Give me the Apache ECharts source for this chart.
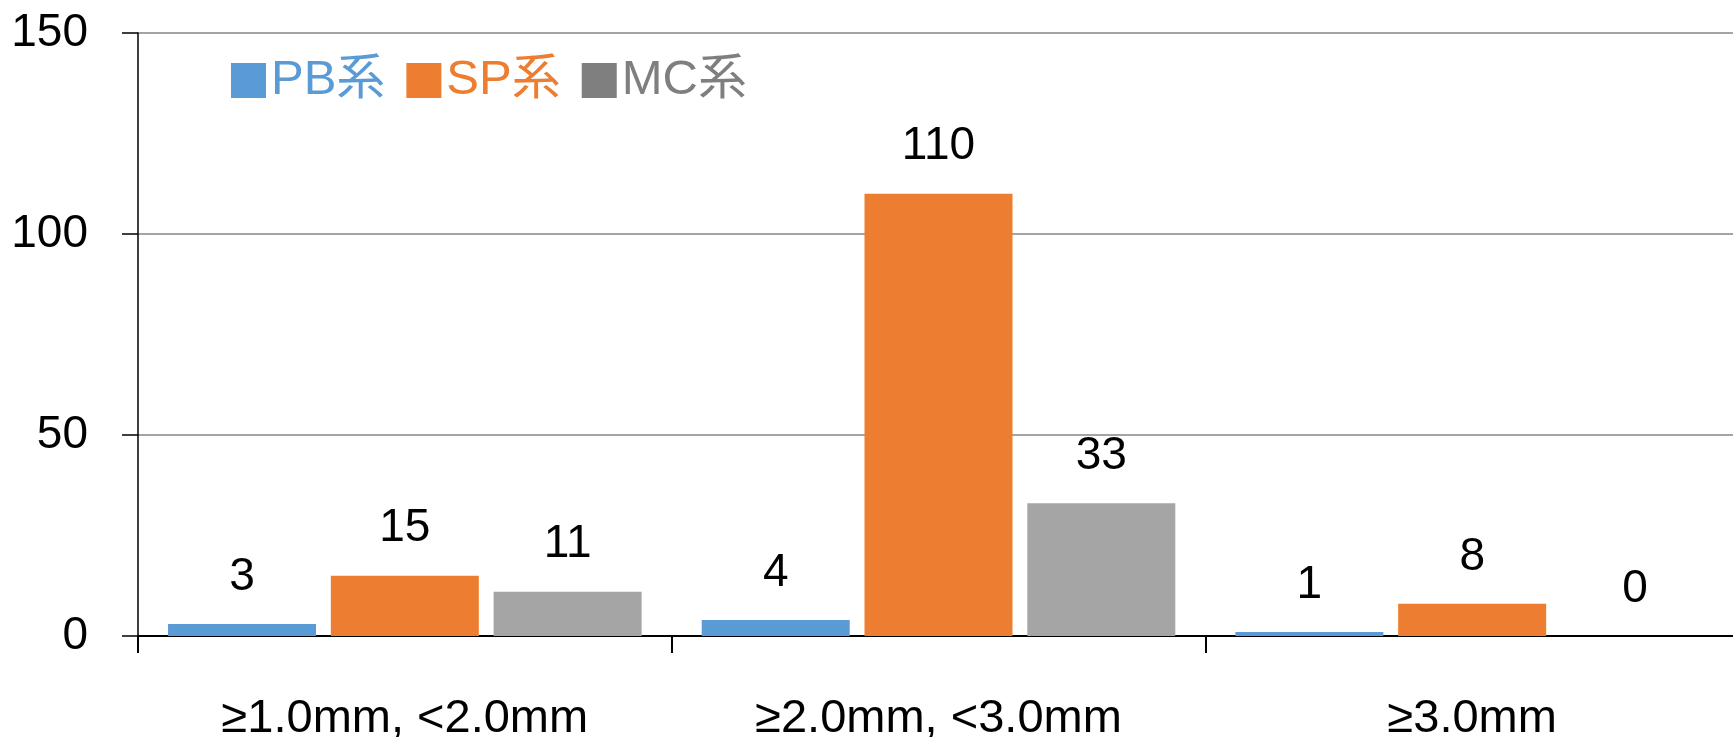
<!DOCTYPE html>
<html>
<head>
<meta charset="utf-8">
<script src="https://cdn.jsdelivr.net/npm/echarts@6/dist/echarts.min.js"></script>
<style>
  html, body { margin: 0; padding: 0; background: #fff; }
  #chart { width: 1733px; height: 737px; }
</style>
</head>
<body>
<div id="chart"></div>
<script>
// Size classes of the counted items
const categories = ['≥1.0mm, <2.0mm', '≥2.0mm, <3.0mm', '≥3.0mm'];
// Counts per series
const pbValues = [3, 4, 1];
const spValues = [15, 110, 8];
const mcValues = [11, 33, 0];
// Value axis ticks
const yTicks = [0, 50, 100, 150];

const FONT = '"Liberation Sans", Arial, "Noto Sans CJK JP", sans-serif';
const BLUE = '#5b9bd5', ORANGE = '#ed7d31', GRAY = '#a5a5a5', GRAY_DARK = '#7f7f7f';

const chart = echarts.init(document.getElementById('chart'), null, { renderer: 'canvas' });

const labelStyle = {
  show: true,
  position: 'top',
  distance: 24,
  color: '#000',
  fontFamily: FONT,
  fontSize: 46
};

function barSeries(name, data, color) {
  return {
    name: name,
    type: 'bar',
    data: data,
    barWidth: 148,
    barGap: '10%',
    itemStyle: { color: color },
    label: labelStyle,
    emphasis: { disabled: true }
  };
}

chart.setOption({
  animation: false,
  textStyle: { fontFamily: FONT },
  grid: {
    left: 138, right: -6, top: 33, bottom: 101,
    containLabel: false,
    outerBoundsMode: 'none'
  },
  legend: {
    left: 226,
    top: 51,
    itemWidth: 35,
    itemHeight: 35,
    itemGap: 21,
    icon: 'rect',
    selectedMode: false,
    textStyle: { fontFamily: FONT, fontSize: 49, padding: [0, 0, 0, 0] },
    data: [
      { name: 'PB系', itemStyle: { color: BLUE }, textStyle: { color: BLUE } },
      { name: 'SP系', itemStyle: { color: ORANGE }, textStyle: { color: ORANGE } },
      { name: 'MC系', itemStyle: { color: GRAY_DARK }, textStyle: { color: GRAY_DARK } }
    ]
  },
  xAxis: {
    type: 'category',
    data: categories,
    axisLine: { show: true, lineStyle: { color: '#000', width: 2 } },
    axisTick: { show: true, length: 17, lineStyle: { color: '#000', width: 2 } },
    axisLabel: { color: '#000', fontFamily: FONT, fontSize: 47, margin: 60, interval: 0 },
    splitLine: { show: false }
  },
  yAxis: {
    type: 'value',
    min: yTicks[0],
    max: yTicks[yTicks.length - 1],
    interval: yTicks[1] - yTicks[0],
    axisLine: { show: true, lineStyle: { color: '#000', width: 1.5 } },
    axisTick: { show: true, length: 16, lineStyle: { color: '#000', width: 1.5 } },
    axisLabel: { color: '#000', fontFamily: FONT, fontSize: 46, margin: 50 },
    splitLine: { show: true, lineStyle: { color: '#868686', width: 1.5 } }
  },
  series: [
    barSeries('PB系', pbValues, BLUE),
    barSeries('SP系', spValues, ORANGE),
    barSeries('MC系', mcValues, GRAY)
  ]
});
</script>
</body>
</html>
